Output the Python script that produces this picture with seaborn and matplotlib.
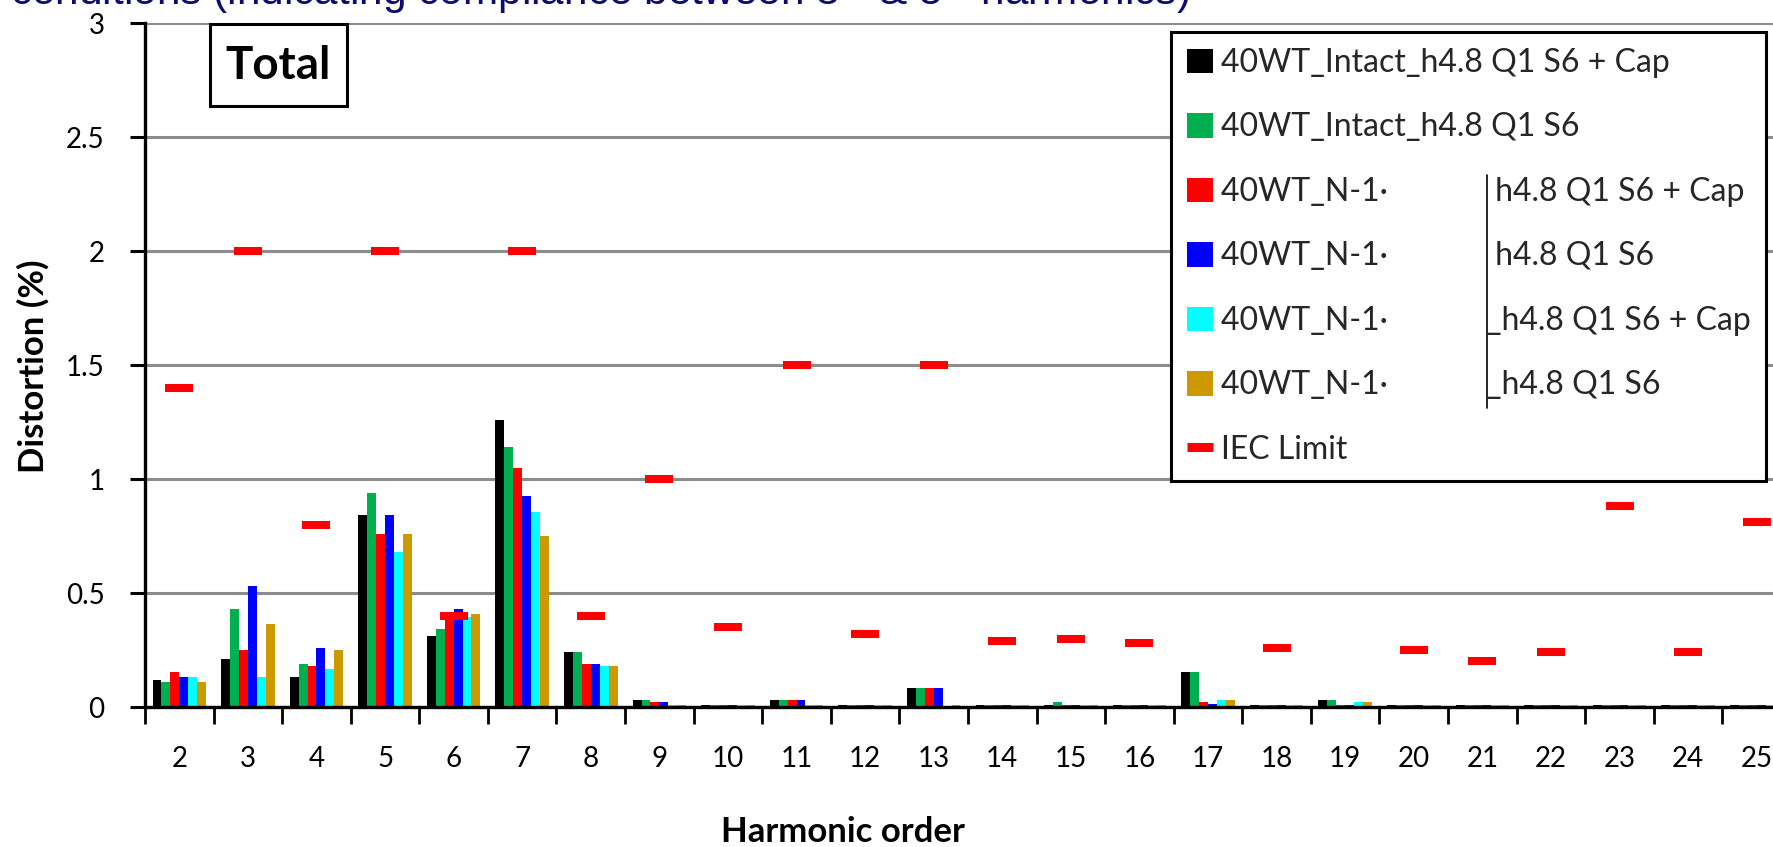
import numpy as np
import pandas as pd
import matplotlib
matplotlib.use("Agg")
import matplotlib.pyplot as plt
import seaborn as sns
from matplotlib.patches import Patch, Rectangle
from matplotlib.lines import Line2D

# ---------------- data ----------------
harmonics = [str(h) for h in range(2, 26)]

series_names = [
    "40WT_Intact_h4.8 Q1 S6 + Cap",
    "40WT_Intact_h4.8 Q1 S6",
    "40WT_N-1 A h4.8 Q1 S6 + Cap",
    "40WT_N-1 A h4.8 Q1 S6",
    "40WT_N-1 B h4.8 Q1 S6 + Cap",
    "40WT_N-1 B h4.8 Q1 S6",
]
n1_prefix = "40WT_N-1\u00b7"
n1_suffixes = ["h4.8 Q1 S6 + Cap", "h4.8 Q1 S6", "_h4.8 Q1 S6 + Cap", "_h4.8 Q1 S6"]
legend_labels = (["40WT_Intact_h4.8 Q1 S6 + Cap", "40WT_Intact_h4.8 Q1 S6"]
                 + [n1_prefix + " " + s for s in n1_suffixes]
                 + ["IEC Limit"])
series_colors = ["#000000", "#00B050", "#FF0000", "#0000FF", "#00FFFF", "#CC9900"]

intact_cap = [0.12, 0.21, 0.13, 0.84, 0.31, 1.26, 0.24, 0.03, 0.007, 0.03, 0.007, 0.085,
              0.007, 0.01, 0.007, 0.155, 0.007, 0.03, 0.007, 0.007, 0.007, 0.007, 0.007, 0.007]
intact = [0.11, 0.43, 0.19, 0.94, 0.34, 1.14, 0.24, 0.03, 0.007, 0.03, 0.007, 0.085,
          0.007, 0.022, 0.007, 0.155, 0.007, 0.03, 0.007, 0.007, 0.007, 0.007, 0.007, 0.007]
n1a_cap = [0.155, 0.25, 0.18, 0.76, 0.40, 1.05, 0.19, 0.02, 0.007, 0.03, 0.007, 0.085,
           0.007, 0.007, 0.007, 0.022, 0.007, 0.01, 0.007, 0.007, 0.007, 0.007, 0.007, 0.007]
n1a = [0.13, 0.53, 0.26, 0.84, 0.43, 0.925, 0.19, 0.02, 0.007, 0.03, 0.007, 0.085,
       0.007, 0.007, 0.007, 0.015, 0.007, 0.01, 0.007, 0.007, 0.007, 0.007, 0.007, 0.007]
n1b_cap = [0.13, 0.13, 0.165, 0.68, 0.395, 0.855, 0.18, 0.007, 0.007, 0.007, 0.007, 0.005,
           0.007, 0.007, 0.007, 0.032, 0.007, 0.02, 0.007, 0.007, 0.007, 0.007, 0.007, 0.007]
n1b = [0.11, 0.365, 0.25, 0.76, 0.41, 0.75, 0.18, 0.007, 0.007, 0.007, 0.007, 0.007,
       0.007, 0.007, 0.007, 0.032, 0.007, 0.02, 0.007, 0.007, 0.007, 0.007, 0.007, 0.007]

iec_limit = [1.40, 2.0, 0.80, 2.0, 0.40, 2.0, 0.40, 1.0, 0.35, 1.5, 0.32, 1.5,
             0.29, 0.30, 0.28, np.nan, 0.26, np.nan, 0.25, 0.20, 0.24, 0.88, 0.24, 0.81]

y_ticks = [0, 0.5, 1, 1.5, 2, 2.5, 3]
y_tick_labels = ["0", "0.5", "1", "1.5", "2", "2.5", "3"]

title_text = "conditions (indicating compliance between 3$^{\\mathregular{rd}}$ & 5$^{\\mathregular{th}}$ harmonics)"

# ---------------- style ----------------
sns.set_theme(style="white")
plt.rcParams["font.family"] = ["Lato", "DejaVu Sans"]

W, H = 1774, 847
LEG_FS = 23
fig = plt.figure(figsize=(W / 100, H / 100), dpi=100)
fig.patch.set_facecolor("white")

ax = fig.add_axes([145 / W, 1 - 707 / H, 1646 / W, 684 / H])

all_series = [intact_cap, intact, n1a_cap, n1a, n1b_cap, n1b]
df = pd.DataFrame({
    "Harmonic": np.tile(harmonics, len(series_names)),
    "Series": np.repeat(series_names, len(harmonics)),
    "Distortion": np.concatenate(all_series),
})

sns.barplot(data=df, x="Harmonic", y="Distortion", hue="Series",
            order=harmonics, hue_order=series_names, palette=series_colors,
            width=0.78, saturation=1, linewidth=0, legend=False, ax=ax)

sns.pointplot(x=harmonics, y=iec_limit, order=harmonics, color="#FF0000",
              linestyle="none", marker="_", markersize=19.5, markeredgewidth=5.8,
              errorbar=None, ax=ax)

ax.set_xlim(-0.5, 23.5)
ax.set_ylim(0, 3)

# x: tick marks at category boundaries, labels at centres
ax.set_xticks(np.arange(-0.5, 24, 1))
ax.set_xticklabels([])
ax.set_xticks(np.arange(len(harmonics)), minor=True)
ax.set_xticklabels(harmonics, minor=True)
ax.tick_params(axis="x", which="major", length=12, width=2, direction="out",
               color="black", bottom=True)
ax.tick_params(axis="x", which="minor", length=0, pad=28, labelsize=20,
               labelcolor="black", bottom=True)

ax.set_yticks(y_ticks)
ax.set_yticklabels(y_tick_labels)
ax.tick_params(axis="y", which="major", length=11, width=2.2, direction="out",
               color="black", left=True, pad=18, labelsize=20, labelcolor="black")

ax.yaxis.grid(True, color="#8c8c8c", linewidth=2.2)
ax.xaxis.grid(False)
ax.set_axisbelow(True)

for s in ["top", "right"]:
    ax.spines[s].set_visible(False)
for s in ["left", "bottom"]:
    ax.spines[s].set_visible(True)
    ax.spines[s].set_color("black")
    ax.spines[s].set_linewidth(2.4)
    ax.spines[s].set_zorder(3)

ax.set_ylabel("Distortion (%)", fontsize=25, fontweight="bold", color="black")
ax.yaxis.set_label_coords(-0.068, 0.498)
ax.yaxis.label.set_va("center")
ax.set_xlabel("Harmonic order", fontsize=25, fontweight="bold", color="black")
ax.xaxis.set_label_coords(0.424, -0.183)
ax.xaxis.label.set_va("center")

# legend
handles = [Patch(facecolor=c, edgecolor="none") for c in series_colors]
handles.append(Line2D([], [], color="#FF0000", lw=6.5, solid_capstyle="butt"))
leg = ax.legend(handles, legend_labels, loc="upper left",
                bbox_to_anchor=(1171 / W, 1 - 32 / H), bbox_transform=fig.transFigure,
                borderaxespad=0, frameon=True, fancybox=False, framealpha=1,
                edgecolor="black", fontsize=LEG_FS, handlelength=0.8, handleheight=0.8,
                handletextpad=0.25, labelspacing=1.08, borderpad=0.5)
leg.get_frame().set_linewidth(2.2)
leg.set_zorder(10)

# pad the split N-1 labels with spaces so their second part starts at the column
fig.canvas.draw()
renderer = fig.canvas.get_renderer()


def text_width(s):
    t = fig.text(0, 0, s, fontsize=LEG_FS)
    w = t.get_window_extent(renderer).width
    t.remove()
    return w


space_w = (text_width("x" + " " * 20 + "x") - text_width("xx")) / 20
prefix_w = text_width(n1_prefix)
col_x = 1494
for i, suffix in enumerate(n1_suffixes):
    txt = leg.get_texts()[2 + i]
    x0 = txt.get_window_extent(renderer).x0
    target = col_x - 6 if suffix.startswith("_") else col_x
    n = max(1, int(round((target - x0 - prefix_w) / space_w)))
    txt.set_text(n1_prefix + " " * n + suffix)

fig.add_artist(Line2D([1487 / W, 1487 / W], [1 - 175 / H, 1 - 408 / H],
                      transform=fig.transFigure, color="black", lw=1.2, zorder=20))

# "Total" box
fig.add_artist(Rectangle((210 / W, 1 - 106 / H), 137 / W, 82 / H, transform=fig.transFigure,
                         facecolor="white", edgecolor="black", lw=2.2, zorder=5))
fig.text(278.5 / W, 1 - 66 / H, "Total", ha="center", va="center", fontsize=33,
         fontweight="bold", color="black", zorder=6)

# clipped slide title at the top
fig.text(10 / W, 1 - 5 / H, title_text, ha="left", va="baseline", fontsize=30.5,
         color="#0c0c6e", family=["Liberation Sans", "DejaVu Sans"])

fig.savefig("out.png", dpi=100)
